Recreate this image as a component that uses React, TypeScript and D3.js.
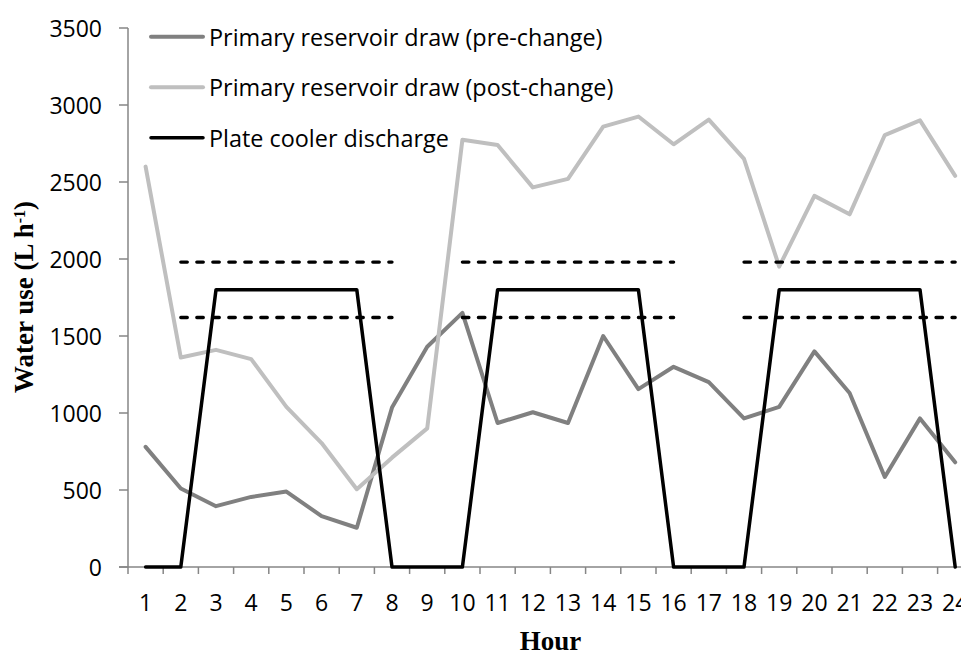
import React from "react";
import * as d3 from "d3";

const hours = ["1","2","3","4","5","6","7","8","9","10","11","12","13","14","15","16","17","18","19","20","21","22","23","24"];
const preChange = [780, 510, 395, 455, 490, 330, 255, 1035, 1430, 1650, 935, 1005, 935, 1500, 1155, 1300, 1200, 965, 1040, 1400, 1130, 585, 965, 680];
const postChange = [2600, 1360, 1410, 1350, 1040, 805, 505, 710, 900, 2775, 2740, 2465, 2520, 2860, 2925, 2745, 2905, 2650, 1950, 2410, 2290, 2805, 2900, 2540];
const coolerDischarge = [0, 0, 1800, 1800, 1800, 1800, 1800, 0, 0, 0, 1800, 1800, 1800, 1800, 1800, 0, 0, 0, 1800, 1800, 1800, 1800, 1800, 0];
const upperLimit = [null, 1980, 1980, 1980, 1980, 1980, 1980, 1980, null, 1980, 1980, 1980, 1980, 1980, 1980, 1980, null, 1980, 1980, 1980, 1980, 1980, 1980, 1980];
const lowerLimit = [null, 1620, 1620, 1620, 1620, 1620, 1620, 1620, null, 1620, 1620, 1620, 1620, 1620, 1620, 1620, null, 1620, 1620, 1620, 1620, 1620, 1620, 1620];
const yTicks = [0, 500, 1000, 1500, 2000, 2500, 3000, 3500];
const legendLabels = [
  "Primary reservoir draw (pre-change)",
  "Primary reservoir draw (post-change)",
  "Plate cooler discharge",
];

const W = 961;
const H = 652;
const left = 128;
const bandW = 35.2;
const top = 28;
const bottom = 567;

export default function App() {
  const x = d3.scaleBand<string>().domain(hours).range([left, left + bandW * hours.length]).padding(0);
  const cx = (h: string) => (x(h) as number) + x.bandwidth() / 2;
  const y = d3.scaleLinear().domain([0, 3500]).range([bottom, top]);

  const line = d3
    .line<number | null>()
    .defined((d) => d !== null)
    .x((_, i) => cx(hours[i]))
    .y((d) => y(d as number));

  const axisColor = "#868686";
  const sans = "'Open Sans', sans-serif";
  const serif = "'Liberation Serif', serif";
  const fsTick = 23;
  const fsLegend = 23.4;

  const legendColors = ["#808080", "#bfbfbf", "#000000"];
  const legendWidths = [4, 4, 3.5];

  const tickXs = [...hours.map((h) => x(h) as number), left + bandW * hours.length];

  return (
    <svg
      width={W}
      height={H}
      style={{ position: "absolute", left: 0, top: 0, background: "#fff" }}
    >
      <rect x={0} y={0} width={W} height={H} fill="#fff" />
      {/* y axis */}
      <line x1={left} x2={left} y1={top} y2={bottom} stroke={axisColor} strokeWidth={1.5} />
      {yTicks.map((t) => (
        <g key={t}>
          <line x1={left - 9} x2={left} y1={y(t)} y2={y(t)} stroke={axisColor} strokeWidth={1.5} />
          <text
            x={102}
            y={y(t)}
            textAnchor="end"
            dominantBaseline="central"
            fontFamily={sans}
            fontSize={fsTick}
            fill="#000"
          >
            {t}
          </text>
        </g>
      ))}
      {/* x axis */}
      <line x1={left - 9} x2={W + 20} y1={bottom} y2={bottom} stroke={axisColor} strokeWidth={1.5} />
      {tickXs.map((tx, i) => (
        <line key={i} x1={tx} x2={tx} y1={bottom} y2={bottom + 7} stroke={axisColor} strokeWidth={1.5} />
      ))}
      {hours.map((h) => (
        <text
          key={h}
          x={cx(h)}
          y={602}
          textAnchor="middle"
          dominantBaseline="central"
          fontFamily={sans}
          fontSize={fsTick}
          fill="#000"
        >
          {h}
        </text>
      ))}
      {/* axis titles */}
      <text
        x={left + (bandW * hours.length) / 2}
        y={650}
        textAnchor="middle"
        fontFamily={serif}
        fontWeight="bold"
        fontSize={27}
        fill="#000"
      >
        Hour
      </text>
      <text
        transform={`translate(33, 297) rotate(-90)`}
        textAnchor="middle"
        fontFamily={serif}
        fontWeight="bold"
        fontSize={27}
        fill="#000"
      >
        Water use (L h
        <tspan baselineShift="super" fontSize={16}>-1</tspan>
        )
      </text>

      {/* series */}
      <path d={line(preChange) || ""} fill="none" stroke="#808080" strokeWidth={4} strokeLinejoin="round" strokeLinecap="round" />
      <path d={line(postChange) || ""} fill="none" stroke="#bfbfbf" strokeWidth={4} strokeLinejoin="round" strokeLinecap="round" />
      <path d={line(coolerDischarge) || ""} fill="none" stroke="#000" strokeWidth={3.5} strokeLinejoin="round" strokeLinecap="round" />
      <path d={line(upperLimit) || ""} fill="none" stroke="#000" strokeWidth={3.3} strokeDasharray="6.5 9.5" strokeLinecap="round" />
      <path d={line(lowerLimit) || ""} fill="none" stroke="#000" strokeWidth={3.3} strokeDasharray="6.5 9.5" strokeLinecap="round" />

      {/* legend */}
      {legendLabels.map((lab, i) => {
        const ly = 36.7 + i * 50.5;
        return (
          <g key={lab}>
            <line x1={151} x2={203} y1={ly} y2={ly} stroke={legendColors[i]} strokeWidth={legendWidths[i]} strokeLinecap="round" />
            <text x={209} y={ly} dominantBaseline="central" fontFamily={sans} fontSize={fsLegend} fill="#000">
              {lab}
            </text>
          </g>
        );
      })}
    </svg>
  );
}
